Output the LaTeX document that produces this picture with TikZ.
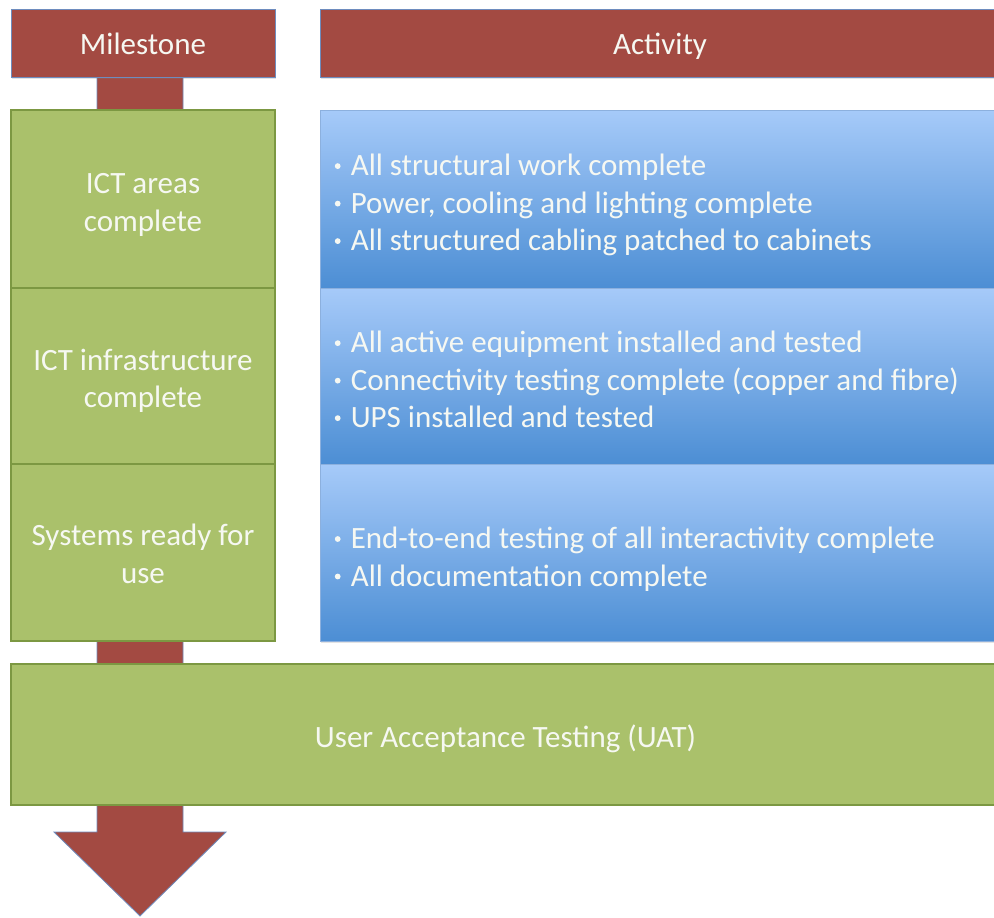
\documentclass[tikz,border=0pt]{standalone}
\usepackage{fontspec}
\setmainfont{Carlito}
\usetikzlibrary{shadows}

\definecolor{hdrred}{RGB}{163,74,66}
\definecolor{hdrline}{RGB}{110,140,190}
\definecolor{msgreen}{RGB}{170,193,107}
\definecolor{msline}{RGB}{124,152,66}
\definecolor{acttop}{RGB}{166,202,249}
\definecolor{actmid}{RGB}{122,171,231}
\definecolor{actbot}{RGB}{76,142,212}
\definecolor{actline}{RGB}{140,176,222}
\definecolor{txt}{RGB}{246,248,242}

\tikzset{
  base/.style={rectangle, inner sep=0pt, text=txt, align=center,
    font=\fontsize{31}{37.5}\selectfont},
  header/.style={base, fill=hdrred, draw=hdrline, line width=0.8pt,
    minimum height=68pt,
    drop shadow={opacity=0.22, shadow xshift=1pt, shadow yshift=-2pt}},
  milestone/.style={base, fill=msgreen, draw=msline, line width=1.4pt,
    minimum width=264pt},
  activity/.style={base, draw=actline, line width=0.8pt,
    top color=acttop, middle color=actmid, bottom color=actbot,
    minimum width=680pt,
    drop shadow={opacity=0.22, shadow xshift=1pt, shadow yshift=-2pt}},
  bullets/.style={inner sep=0pt, text=txt, align=left, anchor=west,
    font=\fontsize{31}{37.5}\selectfont},
  spine/.style={fill=hdrred, draw=hdrline, line width=0.8pt, line join=miter}
}
% small round bullet followed by the item text
\newcommand{\itm}{\makebox[16pt][l]{%
  \tikz[baseline=-9.5pt]\fill[txt] (0pt,0pt) circle (2.9pt);}}
% centred lines, set a little below the box centre
\newcommand{\lowr}[2]{\raisebox{-#1}[\height][\depth]{%
  \begin{tabular}{@{}c@{}}#2\end{tabular}}}

\begin{document}
\begin{tikzpicture}[x=1pt, y=-1pt]
\useasboundingbox (0,0) rectangle (994,918);
\clip (0,0) rectangle (994,918);

% timeline arrow running down behind the milestones
\coordinate (sl) at (97,77);
\coordinate (sr) at (183,77);
\draw[spine] (sl) -- (sr) -- (183,832) -- (226,832) -- (140,916)
  -- (54,832) -- (97,832) -- cycle;

% column headers
\node[header, minimum width=264pt] (hms) at (143,43) {\lowr{3.5pt}{Milestone}};
\node[header, minimum width=680pt] (hact) at (660,43) {\lowr{3.5pt}{Activity}};

% milestones
\node[milestone, minimum height=178pt] (m1) at (143,199)
  {\lowr{6pt}{ICT areas\\complete}};
\node[milestone, minimum height=176pt] (m2) at (143,376)
  {\lowr{5.5pt}{ICT infrastructure\\complete}};
\node[milestone, minimum height=177pt] (m3) at (143,552.5)
  {\lowr{4.5pt}{Systems ready for\\use}};

% activities
\node[activity, minimum height=178pt] (a1) at (660,199) {};
\node[activity, minimum height=176pt] (a2) at (660,376) {};
\node[activity, minimum height=177pt] (a3) at (660,552.5) {};

\node[bullets] (t1) at ([xshift=15pt, yshift=-6pt]a1.west)
  {\itm All structural work complete\\
   \itm Power, cooling and lighting complete\\
   \itm All structured cabling patched to cabinets};
\node[bullets] (t2) at ([xshift=15pt, yshift=-3.5pt]a2.west)
  {\itm All active equipment installed and tested\\
   \itm Connectivity testing complete (copper and fibre)\\
   \itm UPS installed and tested};
\node[bullets] (t3) at ([xshift=15pt, yshift=-6.5pt]a3.west)
  {\itm End-to-end testing of all interactivity complete\\
   \itm All documentation complete};

% final stage
\node[milestone, minimum width=989pt, minimum height=141pt] (uat)
  at (505.5,734.5) {\lowr{5pt}{User Acceptance Testing (UAT)}};
\end{tikzpicture}
\end{document}
